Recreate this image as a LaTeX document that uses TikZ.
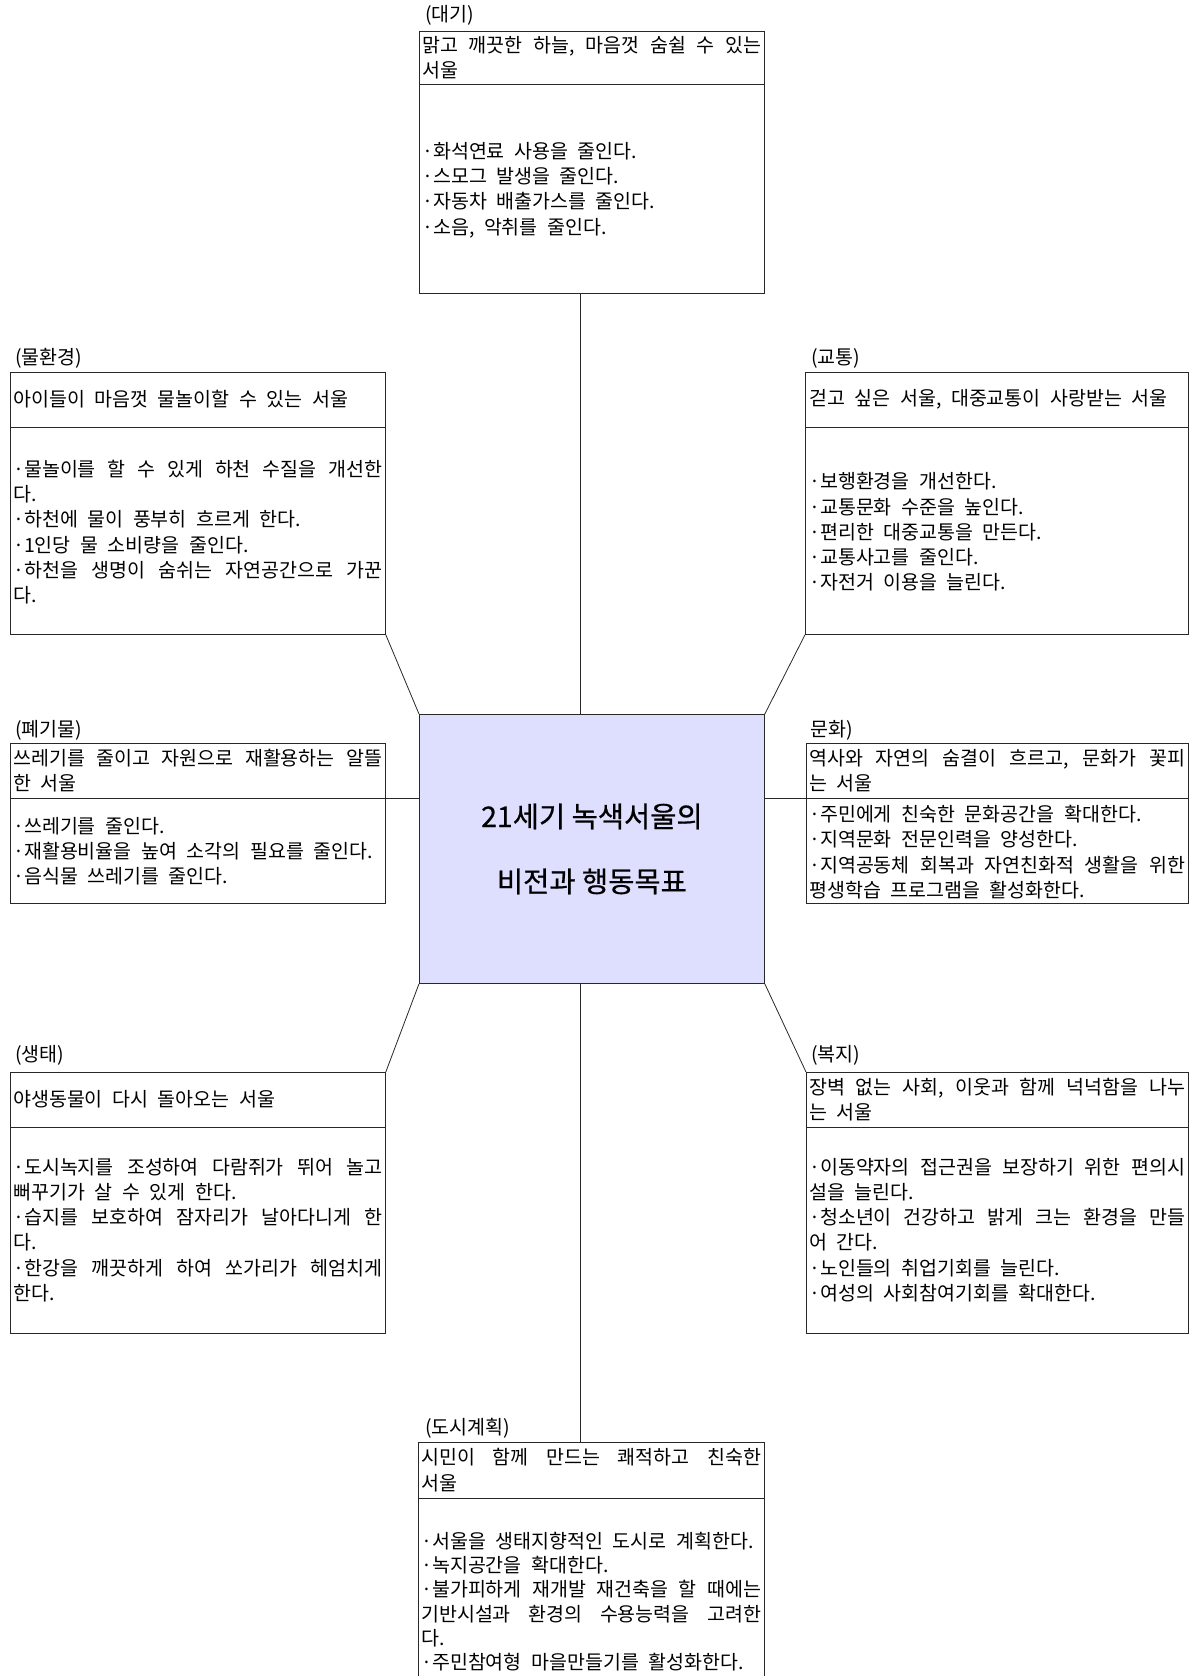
\documentclass[tikz,border=0pt]{standalone}
\usepackage{fontspec}
\setmainfont{Noto Sans CJK KR}[WordSpace=2.2]
\newfontfamily\cfont{Noto Sans CJK KR}[FakeBold=0.6]
\setlength\parindent{0pt}
\newlength\lw
\newcommand\fl[1]{\makebox[\lw][s]{\spaceskip=\fontdimen2\font plus 1fil\relax #1}}
\newcommand\bodyfont{\fontsize{19.5}{25.3}\selectfont}
\newcommand\lblfont{\fontsize{19.5}{22}\selectfont}
\newcommand\bigfont{\cfont\fontsize{28.5}{65}\selectfont}
\definecolor{cfill}{RGB}{222,222,255}
\definecolor{ink}{RGB}{40,40,40}
\tikzset{
  panel/.style={draw=ink, line width=0.8pt, rectangle, inner sep=0pt, anchor=north west},
  conn/.style={draw=ink, line width=0.8pt},
  lbl/.style={font=\lblfont, anchor=west, inner sep=0pt},
  txt/.style={font=\bodyfont, anchor=west, inner sep=0pt, align=left,
    execute at begin node={\global\lw=#1\relax}},
}
\begin{document}
\begin{tikzpicture}[x=1pt,y=-1pt]
\useasboundingbox (0,0) rectangle (1190,1676);
\fill[white] (0,0) rectangle (1190,1676);
% axis and divider coordinates
\coordinate (axis) at (580,0);
\coordinate (midline) at (0,798);
% boxes
\node[panel, minimum width=345pt, minimum height=262pt] (air) at (419,31) {};
\node[panel, minimum width=375pt, minimum height=262pt] (water) at (10,372) {};
\node[panel, minimum width=383pt, minimum height=262pt] (traffic) at (805,372) {};
\node[panel, minimum width=375pt, minimum height=160pt] (waste) at (10,743) {};
\node[panel, minimum width=382pt, minimum height=160pt] (culture) at (806,743) {};
\node[panel, fill=cfill, minimum width=345pt, minimum height=269pt] (center) at (419,714) {};
\node[panel, minimum width=375pt, minimum height=261pt] (eco) at (10,1072) {};
\node[panel, minimum width=382pt, minimum height=261pt] (welfare) at (806,1072) {};
\node[panel, minimum width=346pt, minimum height=260pt] (city) at (418,1442) {};
% dividers
\coordinate (d1) at (0,84);
\coordinate (d2) at (0,427);
\coordinate (d4) at (0,1127);
\coordinate (d5) at (0,1498);
\draw[conn] (air.west |- d1) -- (air.east |- d1);
\draw[conn] (water.west |- d2) -- (water.east |- d2);
\draw[conn] (traffic.west |- d2) -- (traffic.east |- d2);
\draw[conn] (waste.west |- midline) -- (waste.east |- midline);
\draw[conn] (culture.west |- midline) -- (culture.east |- midline);
\draw[conn] (eco.west |- d4) -- (eco.east |- d4);
\draw[conn] (welfare.west |- d4) -- (welfare.east |- d4);
\draw[conn] (city.west |- d5) -- (city.east |- d5);
% connectors
\draw[conn] (air.south -| axis) -- (center.north -| axis);
\draw[conn] (center.south -| axis) -- (city.north -| axis);
\draw[conn] (water.south east) -- (center.north west);
\draw[conn] (traffic.south west) -- (center.north east);
\draw[conn] (waste.east |- midline) -- (center.west |- midline);
\draw[conn] (culture.west |- midline) -- (center.east |- midline);
\draw[conn] (center.south west) -- (eco.north east);
\draw[conn] (center.south east) -- (welfare.north west);
% labels
\node[lbl] (lair) at (425,15) {(대기)};
\node[lbl] (lwater) at (15,358) {(물환경)};
\node[lbl] (ltraffic) at (811,358) {(교통)};
\node[lbl] (lwaste) at (15,730) {(폐기물)};
\node[lbl] (lculture) at (810,730) {문화)};
\node[lbl] (leco) at (15,1055) {(생태)};
\node[lbl] (lwelfare) at (811,1055) {(복지)};
\node[lbl] (lcity) at (425,1428) {(도시계획)};
% center text
\node[font=\bigfont, align=center, inner sep=0pt] (ctext) at (center.center) {21세기 녹색서울의\\비전과 행동목표};
% air
\node[txt=339pt] (airt) at (422,57.5) {\fl{맑고 깨끗한 하늘, 마음껏 숨쉴 수 있는}\\서울};
\node[txt=339pt] (airb) at (422,190) {·화석연료 사용을 줄인다.\\·스모그 발생을 줄인다.\\·자동차 배출가스를 줄인다.\\·소음, 악취를 줄인다.};
% water
\node[txt=369pt] (watert) at (13,399.5) {아이들이 마음껏 물놀이할 수 있는 서울};
\node[txt=369pt] (waterb) at (13,532) {\fl{·물놀이를 할 수 있게 하천 수질을 개선한}\\다.\\·하천에 물이 풍부히 흐르게 한다.\\·1인당 물 소비량을 줄인다.\\\fl{·하천을 생명이 숨쉬는 자연공간으로 가꾼}\\다.};
% traffic
\node[txt=376pt] (traffict) at (809,399.5) {걷고 싶은 서울, 대중교통이 사랑받는 서울};
\node[txt=376pt] (trafficb) at (809,532) {·보행환경을 개선한다.\\·교통문화 수준을 높인다.\\·편리한 대중교통을 만든다.\\·교통사고를 줄인다.\\·자전거 이용을 늘린다.};
% waste
\node[txt=369pt] (wastet) at (13,770.5) {\fl{쓰레기를 줄이고 자원으로 재활용하는 알뜰}\\한 서울};
\node[txt=369pt] (wasteb) at (13,851) {·쓰레기를 줄인다.\\·재활용비율을 높여 소각의 필요를 줄인다.\\·음식물 쓰레기를 줄인다.};
% culture
\node[txt=376pt] (culturet) at (809,770.5) {\fl{역사와 자연의 숨결이 흐르고, 문화가 꽃피}\\는 서울};
\node[txt=376pt] (cultureb) at (809,852) {·주민에게 친숙한 문화공간을 확대한다.\\·지역문화 전문인력을 양성한다.\\\fl{·지역공동체 회복과 자연친화적 생활을 위한}\\평생학습 프로그램을 활성화한다.};
% eco
\node[txt=369pt] (ecot) at (13,1099.5) {야생동물이 다시 돌아오는 서울};
\node[txt=369pt] (ecob) at (13,1230) {\fl{·도시녹지를 조성하여 다람쥐가 뛰어 놀고}\\뻐꾸기가 살 수 있게 한다.\\\fl{·습지를 보호하여 잠자리가 날아다니게 한}\\다.\\\fl{·한강을 깨끗하게 하여 쏘가리가 헤엄치게}\\한다.};
% welfare
\node[txt=376pt] (welfaret) at (809,1099.5) {\fl{장벽 없는 사회, 이웃과 함께 넉넉함을 나누}\\는 서울};
\node[txt=376pt] (welfareb) at (809,1230) {\fl{·이동약자의 접근권을 보장하기 위한 편의시}\\설을 늘린다.\\\fl{·청소년이 건강하고 밝게 크는 환경을 만들}\\어 간다.\\·노인들의 취업기회를 늘린다.\\·여성의 사회참여기회를 확대한다.};
% city
\node[txt=340pt] (cityt) at (421,1470) {\fl{시민이 함께 만드는 쾌적하고 친숙한}\\서울};
\node[txt=340pt, anchor=north west, font=\fontsize{19.5}{24.2}\selectfont] (cityb) at (421,1532) {·서울을 생태지향적인 도시로 계획한다.\\·녹지공간을 확대한다.\\\fl{·불가피하게 재개발 재건축을 할 때에는}\\\fl{기반시설과 환경의 수용능력을 고려한}\\다.\\·주민참여형 마을만들기를 활성화한다.};
\end{tikzpicture}
\end{document}
